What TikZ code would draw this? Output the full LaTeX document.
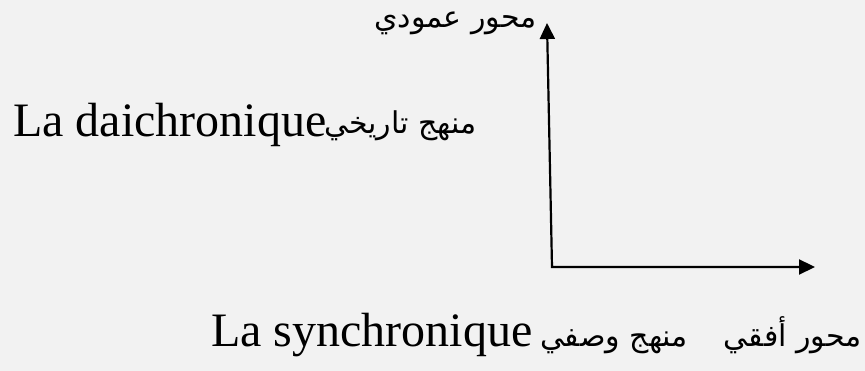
\documentclass[tikz,border=0pt]{standalone}
\usepackage{fontspec}
\setmainfont{Liberation Serif}
\newfontfamily\arabicfont[Script=Arabic]{DejaVu Sans}
\TeXXeTstate=1
\usetikzlibrary{arrows.meta}
\definecolor{bgc}{RGB}{242,242,242}
\tikzset{
  latin/.style={inner sep=0pt, font=\fontsize{48}{50}\selectfont},
  arab/.style={inner sep=0pt, font=\arabicfont\fontsize{30}{34}\selectfont},
  axis/.style={line width=2.2pt, line join=miter,
    {Triangle[length=16pt,width=15pt]}-{Triangle[length=16pt,width=15pt]}}
}
\begin{document}
\begin{tikzpicture}[x=1pt,y=1pt]
\fill[bgc] (0,0) rectangle (865,371);
\coordinate (ytip) at (547,348);
\coordinate (corner) at (552,104);
\coordinate (xtip) at (815,104);
\draw[axis] (ytip) -- (corner) -- (xtip);
\node[latin, anchor=base west] (dia) at (13,234) {La daichronique};
\node[arab, anchor=base east] (hist) at (477,237) {\beginR منهج تاريخي\endR};
\node[arab, anchor=base east] (vert) at (537,343) {\beginR محور عمودي\endR};
\node[latin, anchor=base west] (syn) at (211,24) {La synchronique};
\node[arab, anchor=base east] (horiz) at (862,24) {\beginR محور أفقي\hspace{36pt}منهج وصفي\endR};
\end{tikzpicture}
\end{document}
